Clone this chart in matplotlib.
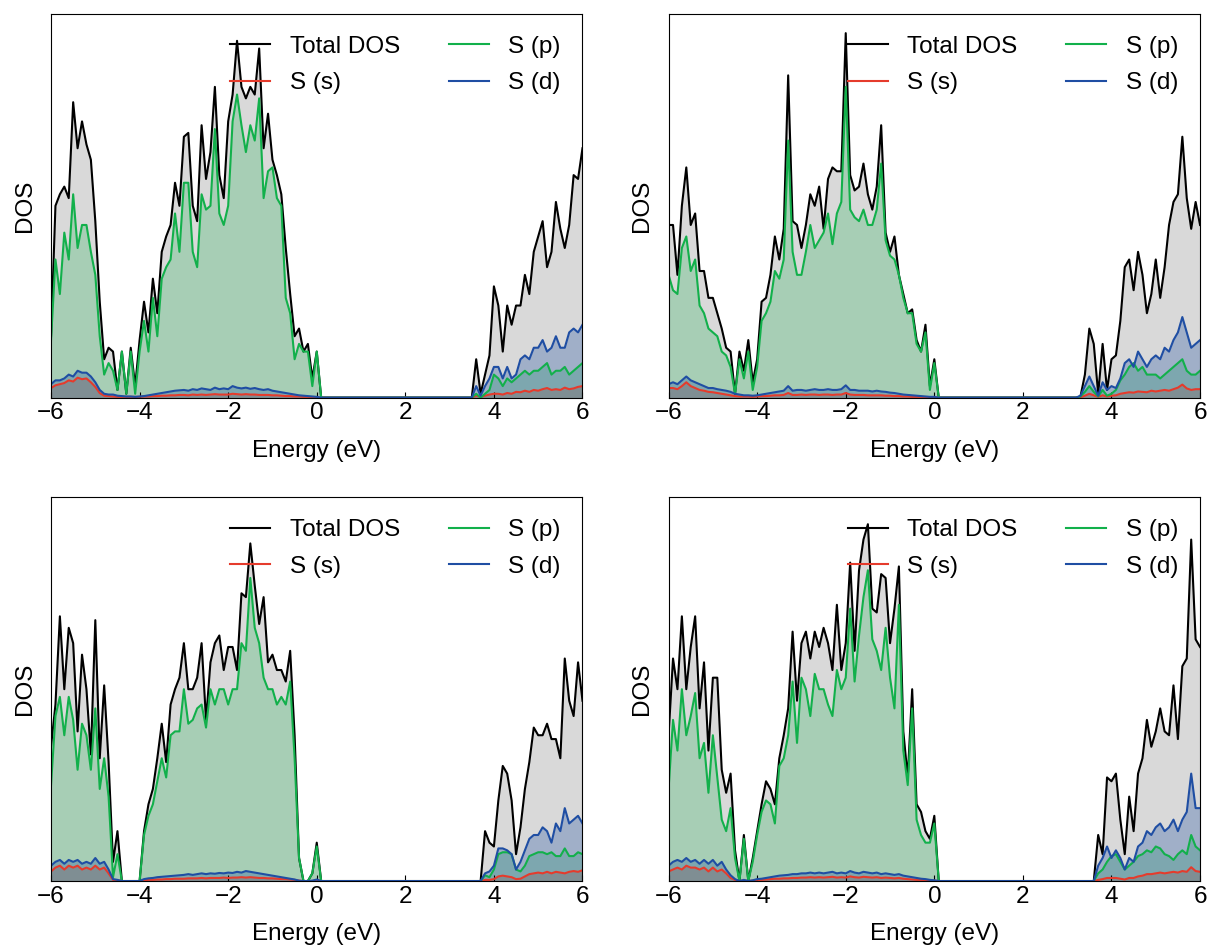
import numpy as np
import matplotlib.pyplot as plt

plt.rcParams['font.family'] = ['Liberation Sans', 'DejaVu Sans']
plt.rcParams['font.size'] = 17.5
plt.rcParams['axes.unicode_minus'] = True

RED = '#e53b2c'
GREEN = '#12b04b'
BLUE = '#1f4ea3'

# energy grid, 0.1 eV steps
energy = np.round(np.linspace(-6.0, 6.0, 121), 2)
n_gap = 30  # 0.2 .. 3.1 eV, nothing there

# ---- (a) ----
# valence band, -6.0 .. 0.1 eV
tot_vb_a = [16, 50, 53, 55, 52, 77, 65, 72, 66, 62, 46, 25, 10, 13, 12, 2, 12, 1, 13, 3,
            15, 25, 17, 31, 22, 38, 42, 45, 56, 50, 68, 69, 50, 46, 71, 57, 64, 81, 58, 52,
            72, 79, 93, 81, 78, 81, 79, 91, 65, 74, 62, 58, 53, 39, 27, 16, 18, 12, 14, 5,
            12, 0]
p_vb_a = [15, 36, 27, 43, 36, 53, 39, 45, 45, 38, 32, 16, 6, 9, 7, 2, 12, 1, 12, 1,
          12, 20, 12, 26, 16, 31, 34, 36, 48, 38, 56, 56, 38, 34, 53, 49, 50, 70, 48, 45,
          50, 72, 79, 71, 64, 71, 67, 78, 52, 59, 60, 52, 50, 26, 22, 10, 14, 12, 12, 3,
          12, 0]
s_vb_a = [2.5, 3.2, 3.5, 3.8, 4.5, 4.2, 5.2, 4.8, 5.0, 4.0, 2.8, 1.2, 0.5, 0.4, 0.3, 0.2, 0.2, 0.2, 0.2, 0.2,
          0.2, 0.3, 0.3, 0.4, 0.4, 0.5, 0.5, 0.6, 0.6, 0.7, 0.7, 0.6, 0.8, 0.7, 0.8, 0.7, 0.8, 0.9, 0.8, 0.8,
          0.8, 1.0, 0.9, 0.8, 0.9, 0.8, 0.8, 0.7, 0.7, 0.7, 0.6, 0.6, 0.5, 0.4, 0.4, 0.3, 0.3, 0.2, 0.2, 0.1,
          0.1, 0.0]
d_vb_a = [3.5, 4.5, 4.5, 5.0, 6.0, 5.5, 7.0, 6.5, 6.5, 5.5, 4.0, 2.0, 1.0, 0.8, 0.8, 0.5, 0.4, 0.3, 0.3, 0.2,
          0.3, 0.4, 0.6, 0.8, 1.0, 1.2, 1.4, 1.6, 1.8, 1.9, 2.0, 1.8, 2.2, 2.0, 2.4, 2.2, 2.0, 2.6, 2.2, 2.4,
          2.2, 3.0, 2.6, 2.4, 2.6, 2.3, 2.5, 2.2, 2.0, 2.2, 1.8, 1.6, 1.4, 1.2, 1.0, 0.8, 0.6, 0.5, 0.4, 0.3,
          0.2, 0.0]
# conduction band, 3.2 .. 6.0 eV
tot_cb_a = [0, 0, 0, 0, 10, 1, 6, 11, 29, 24, 12, 24, 19, 24, 24, 32, 27, 38,
            42, 46, 34, 38, 51, 44, 39, 45, 58, 57, 65]
p_cb_a = [0, 0, 0, 0, 1, 0, 1, 2, 6, 5, 3, 5, 4, 5, 6, 7, 6, 7,
          7, 8, 9, 6, 7, 7, 8, 6, 7, 8, 9]
s_cb_a = [0, 0, 0, 0, 0.5, 0.2, 0.5, 0.8, 1.0, 1.0, 0.8, 1.2, 1.0, 1.5, 1.4, 1.8, 1.5, 2.0,
          1.8, 2.2, 2.5, 2.0, 2.2, 2.0, 2.6, 2.2, 2.4, 2.8, 3.0]
d_cb_a = [0, 0, 0, 0, 3, 0.5, 3, 5, 8, 8, 5, 8, 5, 6, 10, 11, 10, 13,
          13, 15, 12, 13, 16, 13, 13, 17, 18, 17, 19]

# ---- (b) ----
tot_vb_b = [45, 45, 32, 50, 60, 45, 48, 33, 33, 26, 26, 22, 18, 13, 12, 1, 12, 7, 15, 4,
            10, 25, 26, 32, 42, 36, 44, 84, 46, 45, 39, 45, 53, 50, 55, 44, 57, 60, 59, 59,
            95, 58, 54, 55, 61, 53, 49, 55, 71, 43, 38, 42, 32, 27, 22, 23, 15, 12, 19, 3,
            10, 0]
p_vb_b = [32, 28, 27, 39, 42, 33, 36, 24, 22, 18, 17, 16, 12, 11, 8, 1, 10, 5, 12, 2,
          8, 20, 22, 25, 33, 31, 36, 67, 38, 32, 32, 38, 45, 39, 41, 43, 48, 40, 48, 51,
          81, 49, 47, 46, 49, 45, 45, 49, 61, 41, 37, 36, 32, 26, 22, 22, 14, 12, 17, 2,
          9, 0]
s_vb_b = [2.5, 2.5, 2.2, 3.0, 4.0, 3.0, 2.5, 2.0, 1.8, 1.5, 1.4, 1.2, 1.0, 0.8, 0.6, 0.4, 0.3, 0.3, 0.3, 0.2,
          0.3, 0.4, 0.4, 0.5, 0.6, 0.6, 0.7, 1.2, 0.7, 0.7, 0.8, 0.7, 0.8, 0.8, 0.7, 0.8, 0.8, 0.7, 0.8, 0.8,
          1.2, 0.8, 0.7, 0.7, 0.7, 0.6, 0.6, 0.6, 0.6, 0.5, 0.5, 0.4, 0.4, 0.3, 0.3, 0.2, 0.2, 0.2, 0.1, 0.1,
          0.1, 0.0]
d_vb_b = [3.5, 4.0, 3.5, 4.5, 5.5, 4.5, 4.0, 3.5, 3.0, 2.5, 2.5, 2.2, 2.0, 1.8, 1.5, 1.0, 0.8, 0.6, 0.6, 0.5,
          0.6, 0.8, 1.0, 1.2, 1.4, 1.6, 1.8, 3.0, 1.8, 2.0, 2.0, 1.8, 2.0, 2.2, 2.0, 2.0, 2.2, 2.0, 2.0, 2.2,
          3.2, 2.0, 2.0, 1.8, 1.8, 1.8, 1.6, 1.8, 1.6, 1.5, 1.3, 1.2, 1.0, 0.8, 0.7, 0.6, 0.5, 0.4, 0.3, 0.2,
          0.2, 0.0]
tot_cb_b = [0, 0.3, 6, 18, 14, 1, 14, 2, 10, 11, 20, 34, 36, 28, 38, 32, 22, 27, 36,
            26, 34, 45, 51, 53, 68, 52, 44, 51, 45]
p_cb_b = [0, 0.3, 1.5, 3, 1.5, 0.3, 2, 0.5, 1, 2, 4.5, 6, 8, 9, 7, 8, 6, 6, 6,
          5, 6, 7, 8, 9, 10, 7, 6, 6, 7]
s_cb_b = [0, 0.1, 0.5, 1.0, 0.6, 0.2, 0.6, 0.3, 0.5, 0.6, 1.0, 1.2, 1.4, 1.3, 1.6, 1.5, 1.4, 1.8, 1.6,
          1.8, 2.0, 1.8, 2.2, 2.6, 3.4, 2.4, 2.0, 2.2, 2.2]
d_cb_b = [0, 0.5, 3, 5.5, 3, 0.5, 4, 2, 3, 2.5, 5, 9, 10, 8, 12, 10, 8, 10, 11,
          10, 13, 12, 15, 17, 21, 17, 13, 14, 15]

# ---- (c) ----
tot_vb_c = [35, 46, 69, 50, 66, 62, 39, 59, 50, 33, 68, 32, 51, 31, 5, 13, 0, 0, 0, 0,
            0, 13, 20, 24, 32, 41, 31, 46, 50, 53, 62, 50, 50, 53, 62, 42, 57, 62, 64, 55,
            61, 61, 55, 75, 74, 88, 77, 67, 74, 57, 59, 55, 55, 52, 60, 38, 6, 0, 0, 2,
            10, 0]
p_vb_c = [25, 43, 48, 38, 48, 42, 29, 41, 38, 29, 45, 24, 32, 22, 1, 7, 0, 0, 0, 0,
          0, 12, 17, 20, 26, 32, 27, 38, 39, 39, 50, 41, 42, 45, 46, 40, 50, 46, 50, 50,
          46, 50, 50, 62, 60, 79, 66, 62, 53, 50, 50, 46, 48, 46, 52, 32, 6, 0, 0, 2,
          9, 0]
s_vb_c = [2.5, 3.5, 4.0, 3.0, 4.0, 3.5, 4.0, 3.0, 3.5, 3.0, 4.0, 3.0, 3.5, 2.0, 0.3, 0.2, 0, 0, 0, 0,
          0, 0.2, 0.3, 0.3, 0.4, 0.4, 0.5, 0.5, 0.6, 0.6, 0.6, 0.7, 0.7, 0.7, 0.8, 0.7, 0.8, 0.8, 0.8, 0.9,
          0.8, 0.9, 0.9, 1.0, 0.9, 1.0, 0.9, 0.8, 0.8, 0.7, 0.7, 0.6, 0.5, 0.5, 0.4, 0.3, 0.1, 0, 0, 0,
          0.2, 0]
d_vb_c = [4, 5, 5.5, 4.5, 5.5, 5, 5.5, 4.5, 5, 4.5, 6, 4.5, 5, 3, 0.5, 0.3, 0, 0, 0, 0,
          0, 0.5, 0.7, 0.8, 1.0, 1.1, 1.2, 1.3, 1.4, 1.5, 1.6, 1.8, 1.6, 1.8, 2.0, 1.8, 2.0, 1.9, 2.1, 2.0,
          2.2, 2.1, 2.4, 2.2, 2.6, 2.4, 2.2, 2.0, 1.8, 1.6, 1.4, 1.2, 1.0, 0.8, 0.6, 0.4, 0.1, 0, 0, 0.1,
          0.4, 0]
tot_cb_c = [0, 0, 0, 0, 0, 0, 13, 10, 9, 21, 30, 28, 21, 7, 14, 24, 31, 40, 38,
            38, 41, 37, 37, 32, 58, 47, 43, 57, 47]
p_cb_c = [0, 0, 0, 0, 0, 0, 1.5, 1, 3, 7, 7.5, 7.5, 7, 3, 2.5, 4, 6.5, 7, 7.5,
          7.5, 7, 7.5, 6.5, 6.5, 8.5, 6.5, 6.5, 7.5, 7]
s_cb_c = [0, 0, 0, 0, 0, 0, 0.3, 0.3, 0.5, 1.2, 1.4, 1.2, 1.0, 0.5, 0.6, 1.2, 1.8, 2.0, 2.2,
          2.0, 2.4, 2.0, 2.4, 2.2, 2.0, 2.4, 2.6, 2.4, 2.8]
d_cb_c = [0, 0, 0, 0, 0, 0, 2, 2.5, 4, 8.5, 8.5, 8, 7, 3, 5, 8, 11, 12, 12,
          14, 13, 10, 15, 13, 19, 15, 16, 17, 15]

# ---- (d) ----
tot_vb_d = [38, 58, 50, 69, 50, 61, 69, 45, 57, 34, 53, 53, 29, 23, 28, 8, 0, 12, 0, 6,
            13, 20, 26, 24, 20, 32, 38, 45, 65, 47, 62, 65, 58, 65, 61, 66, 62, 55, 72, 55,
            62, 83, 60, 81, 89, 93, 71, 70, 80, 79, 62, 71, 82, 39, 27, 50, 20, 18, 13, 11,
            17, 0]
p_vb_d = [24, 42, 34, 50, 38, 43, 49, 32, 36, 23, 38, 27, 16, 13, 19, 6, 0, 11, 0, 5,
          12, 18, 21, 20, 15, 30, 32, 38, 52, 36, 53, 50, 43, 54, 50, 50, 46, 43, 55, 50,
          53, 71, 52, 64, 74, 81, 63, 60, 55, 66, 53, 45, 72, 34, 25, 45, 16, 12, 10, 10,
          15, 0]
s_vb_d = [2.5, 3.0, 3.5, 3.0, 4.0, 3.5, 3.5, 3.0, 3.5, 2.5, 3.5, 2.5, 3.0, 2.0, 0.8, 0.3, 0, 0.2, 0, 0.1,
          0.3, 0.3, 0.4, 0.5, 0.6, 0.6, 0.7, 0.7, 0.8, 0.8, 0.9, 0.9, 1.0, 0.9, 1.0, 0.9, 1.0, 1.1, 0.9, 1.0,
          0.9, 1.2, 1.0, 0.9, 1.1, 1.0, 0.9, 1.0, 0.8, 0.9, 0.8, 0.7, 0.8, 0.6, 0.5, 0.4, 0.3, 0.3, 0.2, 0.1,
          0.1, 0]
d_vb_d = [4, 5, 5.5, 5, 6, 5, 5.5, 4.5, 5.5, 4.5, 5.5, 4, 5, 3, 1.5, 0.5, 0, 0.3, 0, 0.2,
          0.5, 0.6, 0.8, 1.0, 1.2, 1.4, 1.5, 1.6, 1.8, 1.8, 2.0, 2.0, 2.2, 2.0, 2.2, 2.0, 2.2, 2.4, 2.0, 2.2,
          2.0, 2.6, 2.2, 2.0, 2.4, 2.2, 2.0, 2.2, 1.8, 2.0, 1.8, 1.6, 1.8, 1.4, 1.2, 1.0, 0.8, 0.6, 0.5, 0.3,
          0.2, 0]
tot_cb_d = [0, 0, 0, 0, 0, 12, 7, 27, 26, 28, 16, 7, 22, 13, 28, 32, 42, 35, 39,
            45, 39, 38, 51, 37, 56, 58, 89, 63, 61]
p_cb_d = [0, 0, 0, 0, 0, 2, 3, 5, 6.5, 7, 5, 3, 4, 5, 6.5, 7, 8, 7.5, 9,
          8.5, 7, 6.5, 5.5, 7, 8, 7, 12, 9, 8]
s_cb_d = [0, 0, 0, 0, 0, 0.3, 0.5, 0.8, 0.8, 0.8, 0.6, 0.4, 0.8, 0.8, 1.2, 1.4, 1.8, 1.8, 2.0,
          2.2, 2.0, 2.2, 2.4, 2.2, 2.6, 2.4, 3.6, 2.6, 2.4]
d_cb_d = [0, 0, 0, 0, 0, 4, 6, 9, 6, 8, 6, 3, 6, 5, 9, 10, 13, 12, 14,
          15, 13, 14, 16, 13, 16, 18, 28, 19, 19]


def full(vb, cb):
    return np.concatenate([vb, np.zeros(n_gap), cb])


def plot_dos(ax, tot, s, p, d):
    ax.fill_between(energy, tot, color='black', alpha=0.15, lw=0)
    ax.fill_between(energy, s, color=RED, alpha=0.3, lw=0)
    ax.fill_between(energy, p, color=GREEN, alpha=0.25, lw=0)
    ax.fill_between(energy, d, color=BLUE, alpha=0.3, lw=0)
    ax.plot(energy, tot, color='black', lw=1.5, label='Total DOS')
    ax.plot(energy, s, color=RED, lw=1.5, label='S (s)')
    ax.plot(energy, p, color=GREEN, lw=1.5, label='S (p)')
    ax.plot(energy, d, color=BLUE, lw=1.5, label='S (d)')

    ax.set_xlim(-6, 6)
    ax.set_ylim(0, 100)
    ax.set_xticks(range(-6, 7, 2))
    ax.set_yticks([])
    ax.tick_params(axis='x', direction='in', length=4.5)
    ax.set_xlabel('Energy (eV)', labelpad=11)
    ax.set_ylabel('DOS', labelpad=11)
    ax.legend(loc='upper right', ncol=2, frameon=False,
              handlelength=1.65, labelspacing=0.6)


fig, axes = plt.subplots(2, 2, figsize=(12.09, 9.5), dpi=100)
fig.subplots_adjust(left=0.0422, right=0.9926, top=0.9853, bottom=0.0726,
                    wspace=0.162, hspace=0.26)

panels = [
    (tot_vb_a, tot_cb_a, s_vb_a, s_cb_a, p_vb_a, p_cb_a, d_vb_a, d_cb_a),
    (tot_vb_b, tot_cb_b, s_vb_b, s_cb_b, p_vb_b, p_cb_b, d_vb_b, d_cb_b),
    (tot_vb_c, tot_cb_c, s_vb_c, s_cb_c, p_vb_c, p_cb_c, d_vb_c, d_cb_c),
    (tot_vb_d, tot_cb_d, s_vb_d, s_cb_d, p_vb_d, p_cb_d, d_vb_d, d_cb_d),
]
for ax, (tv, tc, sv, sc, pv, pc, dv, dc) in zip(axes.flat, panels):
    plot_dos(ax, full(tv, tc), full(sv, sc), full(pv, pc), full(dv, dc))

fig.savefig('out.png', dpi=100)
